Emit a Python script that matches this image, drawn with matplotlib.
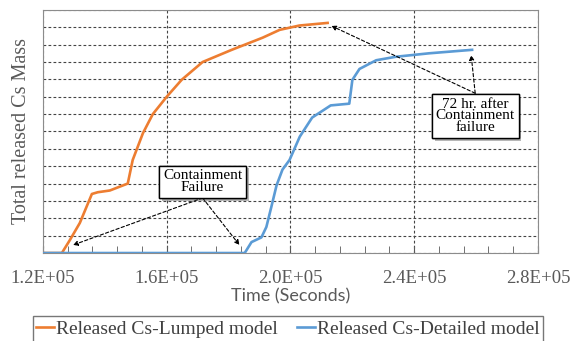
import matplotlib
matplotlib.use("Agg")
import matplotlib.pyplot as plt
import matplotlib.patheffects as pe
from matplotlib.ticker import MultipleLocator, FuncFormatter

# Released Cs, lumped model (time in s, mass in grid units)
lumped_t = [120000, 126100, 128700, 131900, 135800, 137700, 141600, 147400, 149000,
            152300, 155500, 160000, 164800, 171600, 181000, 191000, 196500, 202900, 212000]
lumped_m = [0, 0, 0.75, 1.73, 3.4, 3.5, 3.6, 4.0, 5.36,
            6.9, 8.0, 9.0, 9.97, 11.0, 11.7, 12.4, 12.85, 13.1, 13.25]

# Released Cs, detailed model
detail_t = [120000, 185200, 187400, 190600, 192200, 193800, 195500, 197400, 199700,
            203000, 207000, 213000, 219000, 220000, 222300, 227700, 234000, 244800, 258700]
detail_m = [0, 0, 0.63, 0.9, 1.5, 2.65, 3.9, 4.8, 5.36,
            6.7, 7.8, 8.5, 8.6, 9.97, 10.6, 11.1, 11.3, 11.5, 11.7]

orange = "#ED7D31"
blue = "#5B9BD5"
gray = "#595959"
serif = "Liberation Serif"

fig = plt.figure(figsize=(5.71, 3.41), dpi=100)
ax = fig.add_axes([0.0753, 0.258, 0.8669, 0.713])

ax.plot(lumped_t, lumped_m, color=orange, lw=1.9, label="Released Cs-Lumped model", zorder=3)
ax.plot(detail_t, detail_m, color=blue, lw=1.9, label="Released Cs-Detailed model", zorder=3)

ax.set_xlim(120000, 280000)
ax.set_ylim(0, 14)
ax.xaxis.set_major_locator(MultipleLocator(40000))
ax.xaxis.set_minor_locator(MultipleLocator(8000))
ax.yaxis.set_major_locator(MultipleLocator(1))
ax.xaxis.set_major_formatter(FuncFormatter(lambda v, p: "%.1fE+05" % (v / 1e5)))
ax.set_yticklabels([])
ax.tick_params(axis="y", length=0)
ax.tick_params(axis="x", which="both", direction="in", length=5, color=gray, pad=12,
               labelsize=13.5, labelcolor=gray)
for lab in ax.get_xticklabels():
    lab.set_fontfamily(serif)
ax.grid(True, which="major", color="#444444", lw=0.8, linestyle=(0, (2.5, 2)))
for s in ax.spines.values():
    s.set_color("#8c8c8c")

ax.set_xlabel("Time (Seconds)", fontsize=13, color=gray, family="Lato", labelpad=1)
ax.set_ylabel("Total released Cs Mass", fontsize=14.5, color=gray, family=serif, labelpad=5)

arrow = dict(arrowstyle="-|>", linestyle=(0, (3, 2)), lw=0.8, color="black",
             mutation_scale=7, shrinkA=0, shrinkB=0)
box = dict(boxstyle="square,pad=0.25", fc="white", ec="black", lw=1.0)

# containment failure
for tgt in [(129700, 0.46), (183500, 0.46)]:
    ax.annotate("", xy=tgt, xytext=(171600, 3.17), arrowprops=arrow, zorder=4)
t1 = ax.text(171600, 4.09, "Containment\nFailure", ha="center", va="center",
             fontsize=11, family=serif, linespacing=0.9, bbox=box, zorder=5)

# 72 hr after failure
for tgt in [(213200, 13.08), (258400, 11.4)]:
    ax.annotate("", xy=tgt, xytext=(259700, 9.2), arrowprops=arrow, zorder=4)
t2 = ax.text(259700, 7.89, "72 hr. after\nContainment\nfailure", ha="center", va="center",
             fontsize=11, family=serif, linespacing=0.85, bbox=box, zorder=5)

for t in (t1, t2):
    t.get_bbox_patch().set_path_effects([pe.withSimplePatchShadow(offset=(2, -2), alpha=0.4),
                                         pe.Normal()])

leg = fig.legend(loc="center", bbox_to_anchor=(0.504, 0.035), ncol=2, frameon=True,
                 fancybox=False, edgecolor="#555555", handlelength=0.9, handletextpad=0.1,
                 columnspacing=1.0, borderpad=0.2, prop={"family": serif, "size": 14})
for txt in leg.get_texts():
    txt.set_color("#404040")

fig.savefig("out.png", dpi=100)
